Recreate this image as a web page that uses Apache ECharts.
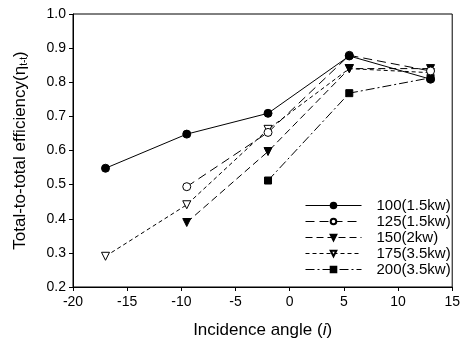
<!DOCTYPE html>
<html>
<head>
<meta charset="utf-8">
<script src="https://cdn.jsdelivr.net/npm/echarts@6/dist/echarts.min.js"></script>
<style>html,body{margin:0;padding:0;background:#fff}#c{width:463px;height:347px}</style>
</head>
<body>
<div id="c"></div>
<script>
const xTicks = [-20, -15, -10, -5, 0, 5, 10, 15];
const yTicks = [0.2, 0.3, 0.4, 0.5, 0.6, 0.7, 0.8, 0.9, 1.0];
const seriesNames = ['100(1.5kw)', '125(1.5kw)', '150(2kw)', '175(3.5kw)', '200(3.5kw)'];
const x100 = [-17, -9.5, -2, 5.5, 13];
const y100 = [0.548, 0.648, 0.709, 0.877, 0.809];
const x125 = [-9.5, -2, 5.5, 13];
const y125 = [0.494, 0.653, 0.879, 0.833];
const x150 = [-9.5, -2, 5.5, 13];
const y150 = [0.389, 0.597, 0.840, 0.840];
const x175 = [-17, -9.5, -2, 5.5, 13];
const y175 = [0.290, 0.441, 0.662, 0.840, 0.828];
const x200 = [-2, 5.5, 13];
const y200 = [0.512, 0.768, 0.813];

const pair = (xs, ys) => xs.map((x, i) => [x, ys[i]]);
const FONT = 'Liberation Sans, Arial, sans-serif';

const styles = [
  {symbol: 'circle', size: 8, fill: '#000', dash: 'solid'},
  {symbol: 'circle', size: 8, fill: '#fff', dash: [9, 5]},
  {symbol: 'triangle', size: 8, fill: '#000', dash: [7, 4]},
  {symbol: 'triangle', size: 8, fill: '#fff', dash: [4, 3]},
  {symbol: 'rect', size: 7, fill: '#000', dash: [9, 3, 2, 3]}
];
const datas = [pair(x100, y100), pair(x125, y125), pair(x150, y150), pair(x175, y175), pair(x200, y200)];

const chart = echarts.init(document.getElementById('c'), null, {renderer: 'canvas'});
chart.setOption({
  animation: false,
  backgroundColor: '#fff',
  grid: {left: 73, right: 10, top: 14, bottom: 60, show: true, borderColor: '#000', borderWidth: 1, backgroundColor: 'transparent'},
  xAxis: {
    type: 'value', min: xTicks[0], max: xTicks[xTicks.length - 1], interval: 5,
    name: '{n|Incidence angle (}{i|i}{n|)}',
    nameLocation: 'middle', nameGap: 35,
    nameTextStyle: {rich: {n: {fontFamily: FONT, fontSize: 17, color: '#000'}, i: {fontFamily: FONT, fontSize: 17, fontStyle: 'italic', color: '#000'}}},
    axisLine: {onZero: false, lineStyle: {color: '#000', width: 1}},
    axisTick: {show: true, inside: false, length: 4, lineStyle: {color: '#000'}},
    axisLabel: {fontFamily: FONT, fontSize: 14, color: '#000', margin: 8},
    splitLine: {show: false}
  },
  yAxis: {
    type: 'value', min: 0.2, max: 1.0, interval: 0.1,
    name: '{n|Total-to-total efficiency(η}{s|t-t}{n|)}',
    nameLocation: 'middle', nameRotate: 90, nameGap: 44,
    nameTextStyle: {rich: {n: {fontFamily: FONT, fontSize: 17, color: '#000'}, s: {fontFamily: FONT, fontSize: 10, color: '#000', padding: [7, 0, 0, 0]}}},
    axisLine: {onZero: false, lineStyle: {color: '#000', width: 1}},
    axisTick: {show: true, inside: false, length: 4, lineStyle: {color: '#000'}},
    axisLabel: {fontFamily: FONT, fontSize: 14, color: '#000', margin: 7, formatter: v => v.toFixed(1)},
    splitLine: {show: false}
  },
  legend: {
    orient: 'vertical', left: 300, top: 193, itemGap: 1, itemWidth: 56, itemHeight: 7,
    textStyle: {fontFamily: FONT, fontSize: 15, color: '#000', padding: [0, 0, 0, 10]},
    lineStyle: {width: 1},
    data: seriesNames
  },
  series: seriesNames.map((name, k) => ({
    name, type: 'line', data: datas[k],
    symbol: styles[k].symbol, symbolSize: styles[k].size,
    symbolRotate: styles[k].symbol === 'triangle' ? 180 : 0,
    itemStyle: {color: styles[k].fill, borderColor: '#000', borderWidth: 1},
    lineStyle: {color: '#000', width: 1, type: styles[k].dash},
    z: 5 - k
  }))
});
</script>
</body>
</html>
